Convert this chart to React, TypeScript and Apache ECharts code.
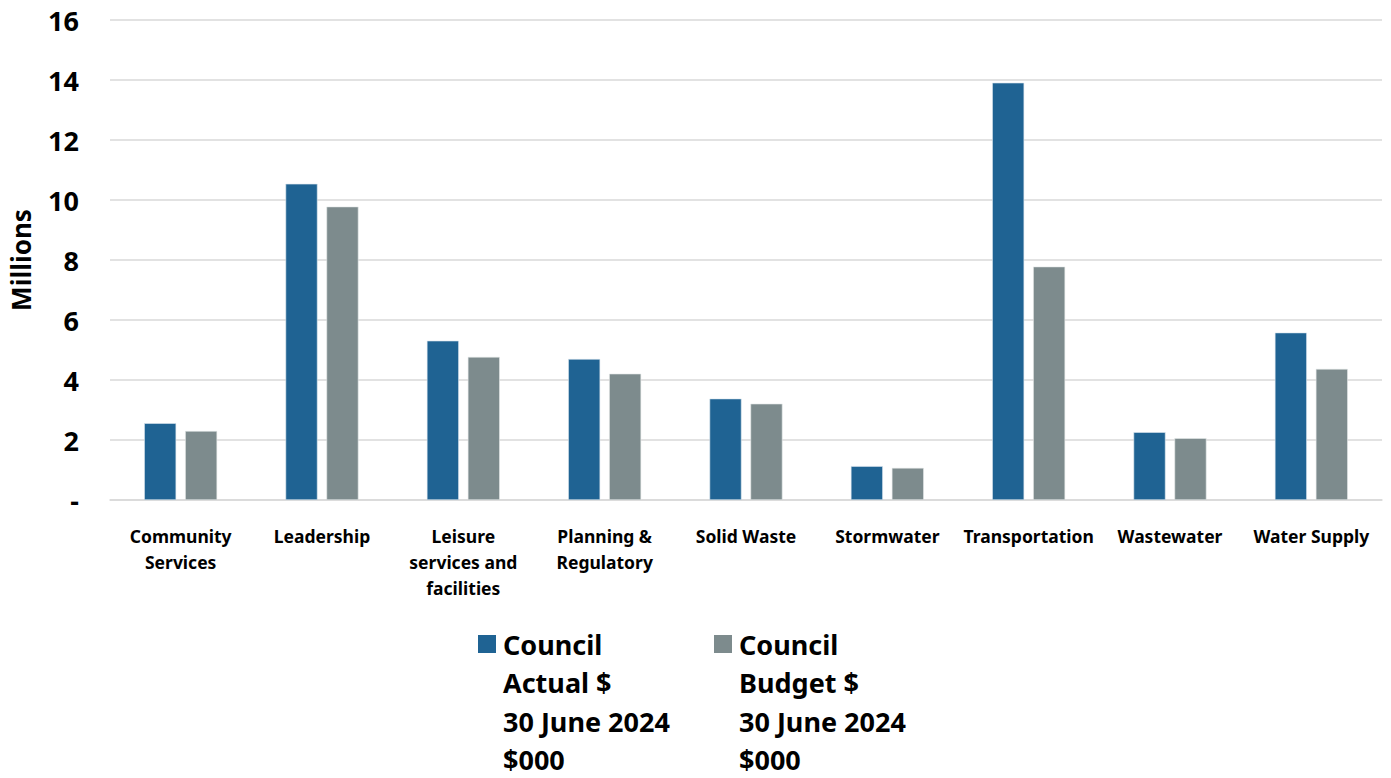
import React, { useEffect, useRef } from "react";
import * as echarts from "echarts";

const categories = [
  "Community\nServices",
  "Leadership",
  "Leisure\nservices and\nfacilities",
  "Planning &\nRegulatory",
  "Solid Waste",
  "Stormwater",
  "Transportation",
  "Wastewater",
  "Water Supply",
];
const actualValues = [2.56, 10.54, 5.31, 4.7, 3.38, 1.13, 13.91, 2.26, 5.58];
const budgetValues = [2.3, 9.78, 4.77, 4.21, 3.21, 1.07, 7.78, 2.06, 4.37];
const seriesNames = ["Council\nActual $\n30 June 2024\n$000", "Council\nBudget $\n30 June 2024\n$000"];
const colors = ["#1F6393", "#7D8B8D"];
const FONT = "'Noto Sans', sans-serif";

export default function App() {
  const ref = useRef<HTMLDivElement>(null);
  useEffect(() => {
    if (!ref.current) return;
    const chart = echarts.init(ref.current, undefined, { renderer: "svg" });
    const legendItems = [
      { x: 478, textX: 503 },
      { x: 714, textX: 739 },
    ];
    const graphic: any[] = [];
    legendItems.forEach((it, i) => {
      graphic.push({
        type: "rect",
        left: it.x,
        top: 635,
        shape: { width: 18, height: 18 },
        style: { fill: colors[i] },
      });
      graphic.push({
        type: "text",
        left: it.textX,
        top: 625,
        style: {
          text: seriesNames[i],
          font: `bold 27px ${FONT}`,
          fill: "#000",
          lineHeight: 38.5,
        },
      });
    });
    chart.setOption({
      animation: false,
      backgroundColor: "#fff",
      grid: { left: 110, right: 9, top: 20, bottom: 278, containLabel: false, outerBoundsMode: "none" },
      xAxis: {
        type: "category",
        data: categories,
        axisTick: { show: false },
        axisLine: { lineStyle: { color: "#D9D9D9", width: 1.5 } },
        axisLabel: {
          interval: 0,
          margin: 23,
          color: "#000",
          fontFamily: FONT,
          fontWeight: "bold",
          fontSize: 17.5,
          lineHeight: 26,
          verticalAlign: "top",
        },
      },
      yAxis: {
        type: "value",
        min: 0,
        max: 16,
        interval: 2,
        name: "Millions",
        nameLocation: "middle",
        nameRotate: 90,
        nameGap: 76,
        nameTextStyle: { color: "#000", fontFamily: FONT, fontWeight: "bold", fontSize: 26 },
        axisLine: { show: false },
        axisTick: { show: false },
        splitLine: { lineStyle: { color: "#D9D9D9", width: 1.5 } },
        axisLabel: {
          margin: 31,
          color: "#000",
          fontFamily: FONT,
          fontWeight: "bold",
          fontSize: 27,
          formatter: (v: number) => (v === 0 ? "-" : String(v)),
        },
      },
      series: [
        {
          name: seriesNames[0],
          type: "bar",
          data: actualValues,
          barWidth: 32,
          barGap: "28%",
          itemStyle: { color: colors[0], borderColor: "#DCE6EE", borderWidth: 0.6 },
        },
        {
          name: seriesNames[1],
          type: "bar",
          data: budgetValues,
          barWidth: 32,
          barGap: "28%",
          itemStyle: { color: colors[1], borderColor: "#E4E8E8", borderWidth: 0.6 },
        },
      ],
      graphic,
    });
    return () => chart.dispose();
  }, []);
  return <div ref={ref} style={{ width: 1391, height: 778, position: "absolute", left: 0, top: 0 }} />;
}
